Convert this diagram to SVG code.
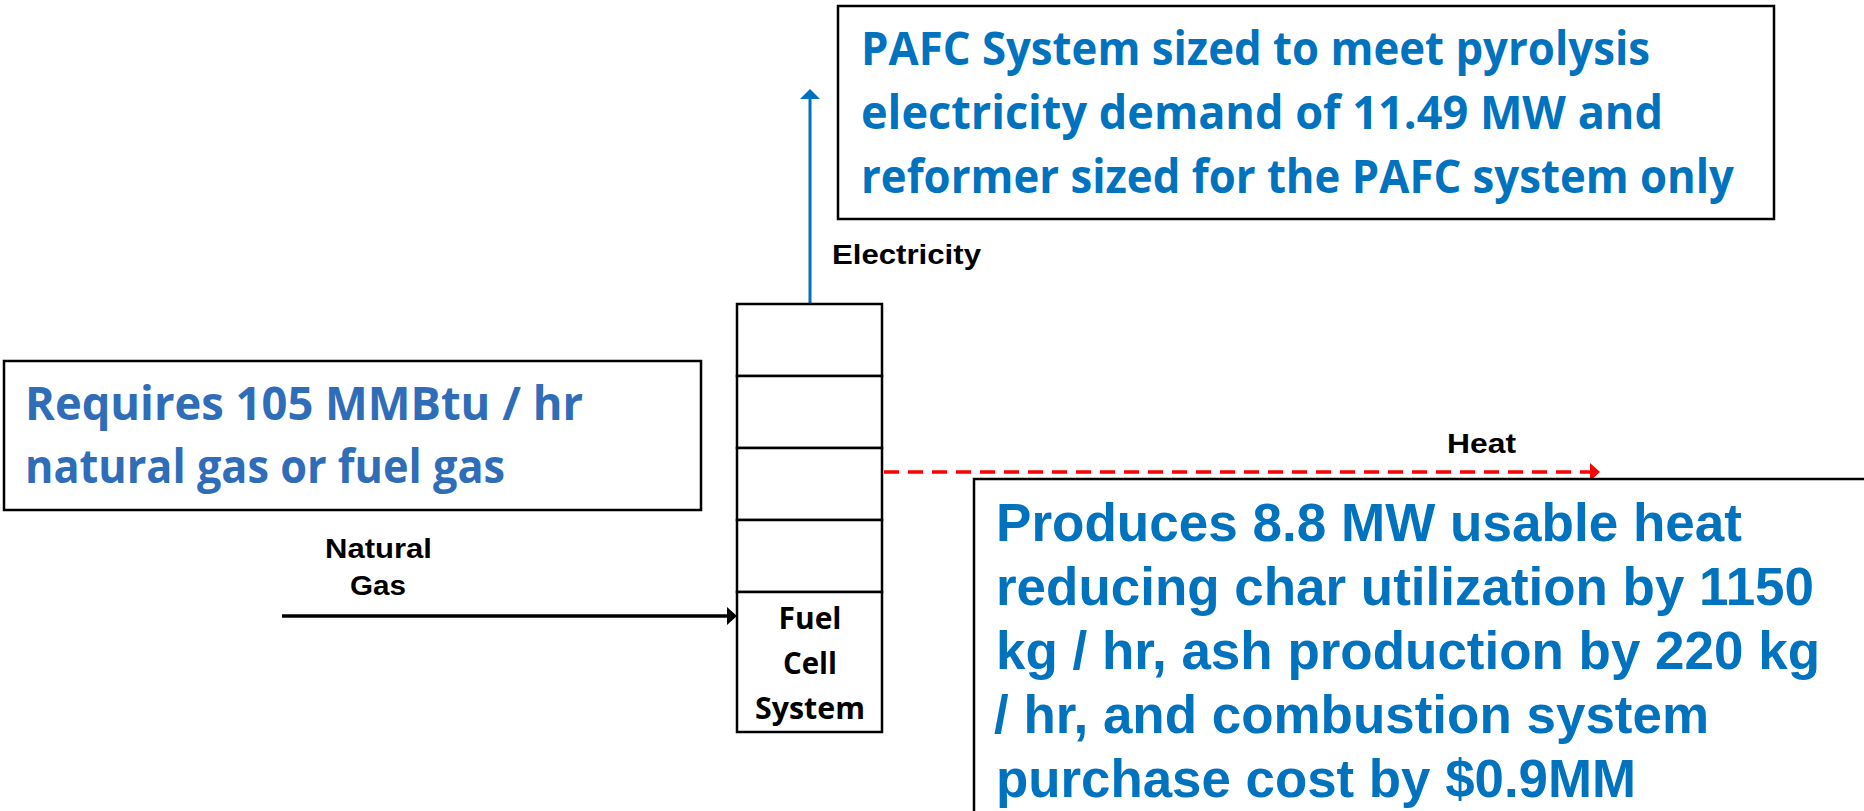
<svg xmlns="http://www.w3.org/2000/svg" width="1864" height="811" viewBox="0 0 1864 811">
<style>
.box{fill:#ffffff;stroke:#000000;stroke-width:2.5}
.cal{font-family:'Open Sans',Lato,sans-serif;font-weight:bold}
.ari{font-family:'Liberation Sans',Arial,sans-serif;font-weight:bold}
.blue{fill:#0072BE}
.blue2{fill:#2F6DB8}
.lbl{fill:#000000;font-size:28px}
</style>
<defs>
<marker id="hBlue" markerUnits="userSpaceOnUse" viewBox="0 0 10 20" markerWidth="10" markerHeight="20" refX="0" refY="10" orient="auto">
<path d="M0,0 L10,10 L0,20 z" fill="#0070C0"/>
</marker>
<marker id="hBlack" markerUnits="userSpaceOnUse" viewBox="0 0 10 18" markerWidth="10" markerHeight="18" refX="0" refY="9" orient="auto">
<path d="M0,0 L10,9 L0,18 z" fill="#000000"/>
</marker>
<marker id="hRed" markerUnits="userSpaceOnUse" viewBox="0 0 10 18" markerWidth="10" markerHeight="18" refX="0" refY="9" orient="auto">
<path d="M0,0 L10,9 L0,18 z" fill="#FF0000"/>
</marker>
</defs>
<rect width="1864" height="811" fill="#ffffff"/>

<g id="connectors">
<line x1="810" y1="304" x2="810" y2="99" stroke="#0070C0" stroke-width="3" marker-end="url(#hBlue)"/>
<line x1="282" y1="616" x2="727" y2="616" stroke="#000000" stroke-width="3.5" marker-end="url(#hBlack)"/>
<line x1="884" y1="472" x2="1590" y2="472" stroke="#FF0000" stroke-width="3.5" stroke-dasharray="15 9" marker-end="url(#hRed)"/>
</g>

<g id="pafc-note">
<rect class="box" x="838" y="6" width="936" height="213"/>
<text class="cal blue" font-size="47" x="861" y="65" textLength="789" lengthAdjust="spacingAndGlyphs">PAFC System sized to meet pyrolysis</text>
<text class="cal blue" font-size="47" x="861" y="129" textLength="802" lengthAdjust="spacingAndGlyphs">electricity demand of 11.49 MW and</text>
<text class="cal blue" font-size="47" x="861" y="193" textLength="873" lengthAdjust="spacingAndGlyphs">reformer sized for the PAFC system only</text>
</g>

<g id="gas-note">
<rect class="box" x="4" y="361" width="697" height="149"/>
<text class="cal blue2" font-size="47" x="25" y="420" textLength="558" lengthAdjust="spacingAndGlyphs">Requires 105 MMBtu / hr</text>
<text class="cal blue2" font-size="47" x="25" y="483" textLength="480" lengthAdjust="spacingAndGlyphs">natural gas or fuel gas</text>
</g>

<g id="heat-note">
<rect class="box" x="974" y="479" width="920" height="400"/>
<text class="ari blue" font-size="53" x="996" y="541" textLength="746" lengthAdjust="spacingAndGlyphs">Produces 8.8 MW usable heat</text>
<text class="ari blue" font-size="53" x="996" y="605" textLength="818" lengthAdjust="spacingAndGlyphs">reducing char utilization by 1150</text>
<text class="ari blue" font-size="53" x="996" y="669" textLength="824" lengthAdjust="spacingAndGlyphs">kg / hr, ash production by 220 kg</text>
<text class="ari blue" font-size="53" x="994" y="733" textLength="715" lengthAdjust="spacingAndGlyphs">/ hr, and combustion system</text>
<text class="ari blue" font-size="53" x="996" y="797" textLength="640" lengthAdjust="spacingAndGlyphs">purchase cost by $0.9MM</text>
</g>

<g id="fuel-cell-stack">
<rect class="box" x="737" y="304" width="145" height="72"/>
<rect class="box" x="737" y="376" width="145" height="72"/>
<rect class="box" x="737" y="448" width="145" height="72"/>
<rect class="box" x="737" y="520" width="145" height="72"/>
<rect class="box" x="737" y="592" width="145" height="140"/>
<text class="cal" font-size="31" fill="#000000" text-anchor="middle" x="810" y="629" textLength="63" lengthAdjust="spacingAndGlyphs">Fuel</text>
<text class="cal" font-size="31" fill="#000000" text-anchor="middle" x="810" y="674" textLength="54" lengthAdjust="spacingAndGlyphs">Cell</text>
<text class="cal" font-size="31" fill="#000000" text-anchor="middle" x="810" y="719" textLength="110" lengthAdjust="spacingAndGlyphs">System</text>
</g>

<g id="labels">
<text class="ari lbl" x="832" y="264" textLength="149" lengthAdjust="spacingAndGlyphs">Electricity</text>
<text class="ari lbl" x="1447" y="453" textLength="69" lengthAdjust="spacingAndGlyphs">Heat</text>
<text class="ari lbl" x="325" y="558" textLength="107" lengthAdjust="spacingAndGlyphs">Natural</text>
<text class="ari lbl" x="350" y="595" textLength="56" lengthAdjust="spacingAndGlyphs">Gas</text>
</g>
</svg>
